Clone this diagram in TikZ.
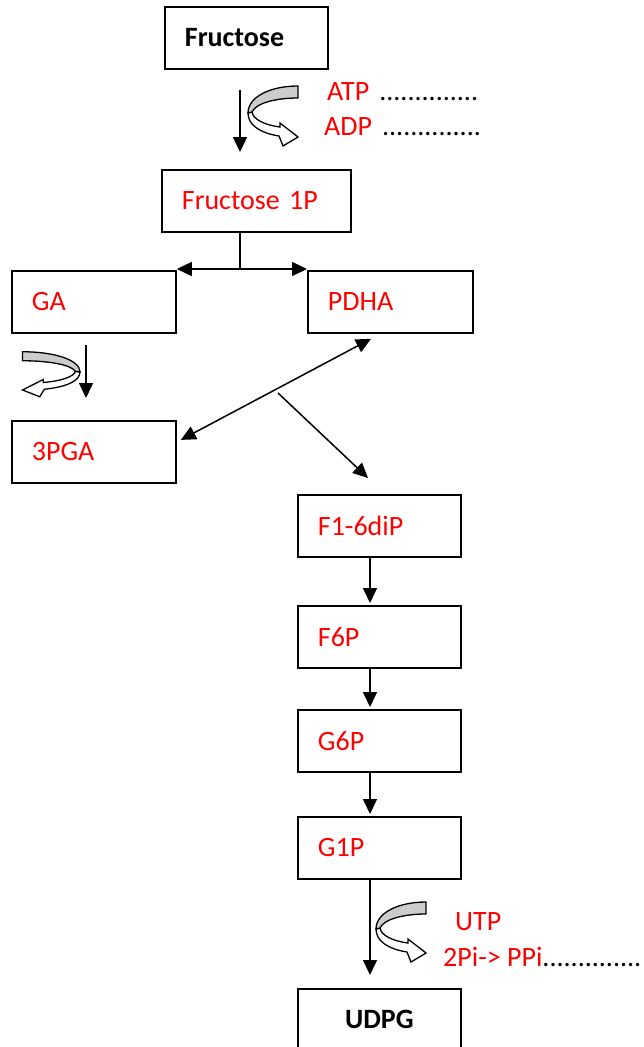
\documentclass[tikz,border=0pt]{standalone}
\usepackage{fontspec}
\setmainfont{Carlito}
\usetikzlibrary{arrows.meta}
\begin{document}
\begin{tikzpicture}
[x=1pt,y=-1pt,
  boxDecorate/.style={draw,line width=1.8pt,anchor=north west,inner xsep=20pt,
    minimum height=62pt,align=left,text=red},
  arrowDecorate/.style={line width=1.5pt,-{Triangle[length=15pt,width=14pt]}},
  bothDecorate/.style={line width=1.5pt,{Triangle[length=15pt,width=14pt]}-{Triangle[length=15pt,width=14pt]}},
  cofactor/.pic={
    \filldraw[fill=white,line width=1.3pt] (0,0) .. controls (0,12) and (12,20) .. (31,23)
      -- (35,33) -- (50,24) -- (32,10) -- (32,14) .. controls (16,12) and (5,6) .. (4,-1) -- cycle;
    \filldraw[fill=gray!40,line width=1.3pt] (50,-27) .. controls (22,-27) and (0,-16) .. (0,0)
      -- (4,-1) .. controls (8,-10) and (28,-15) .. (50,-15) -- cycle;
  },
  font=\fontsize{28}{32}\selectfont]
\useasboundingbox (0,0) rectangle (643,1047);
%% boxes
\foreach \nodename/\x/\y/\tw/\txt in {
  fru/164/6/123/{\bfseries\color{black}Fructose},
  fruip/161/169/149/Fructose 1P,
  ga/11/270/124/GA, pdha/307/270/125/PDHA, pga/11/420/124/3PGA,
  fdip/297/494/123/F1-6diP, fsixp/297/605/123/F6P,
  gsixp/297/709/123/G6P, gonep/297/816/123/G1P}
{
  \node (\nodename) at (\x,\y) [boxDecorate,text width=\tw pt] {\txt};
}
\node (udpg) at (297,988) [boxDecorate,text width=123pt,align=center,text=black,font=\fontsize{28}{32}\selectfont\bfseries] {UDPG};
%% cofactors
\node (atp) at (327,100) [anchor=base west,inner sep=0pt] {\textcolor{red}{ATP}\hspace{10pt}..............};
\node (adp) at (324,135) [anchor=base west,inner sep=0pt] {\textcolor{red}{ADP}\hspace{10pt}..............};
\node (utp) at (455,930) [anchor=base west,inner sep=0pt,text=red] {UTP};
\node (ppi) at (443,966) [anchor=base west,inner sep=0pt] {\textcolor{red}{2Pi-> PPi}..............};
\pic at (248,113) {cofactor};
\pic at (376,929) {cofactor};
\pic[xscale=-1.15,yscale=.75] at (80,372) {cofactor};
%% arrows
\coordinate (topaxis) at (240,0);
\coordinate (leftaxis) at (86,0);
\coordinate (mainaxis) at (370,0);
\coordinate (split) at (240,269);
\coordinate (branch) at (278,393);
\draw[arrowDecorate,shorten <=20pt,shorten >=17pt] (fru.south -| topaxis) -- (fruip.north -| topaxis);
\draw[line width=1.5pt] (fruip.south -| split) -- (split);
\draw[arrowDecorate] (split) -- (ga.north east |- split);
\draw[arrowDecorate] (split) -- (pdha.north west |- split);
\draw[arrowDecorate,shorten <=11pt,shorten >=22pt] (ga.south -| leftaxis) -- (pga.north -| leftaxis);
\draw[bothDecorate] ([xshift=4pt,yshift=12pt]pga.east) -- ([xshift=64pt,yshift=-5pt]pdha.south west);
\draw[arrowDecorate] (branch) -- ([xshift=71pt,yshift=16pt]fdip.north west);
\path
\foreach \startnode/\endnode in {fdip/fsixp, fsixp/gsixp, gsixp/gonep}
{
  (\startnode.south -| mainaxis) edge[arrowDecorate,shorten >=2pt] (\endnode.north -| mainaxis)
};
\draw[arrowDecorate,shorten >=13pt] (gonep.south -| mainaxis) -- (udpg.north -| mainaxis);
\end{tikzpicture}
\end{document}
